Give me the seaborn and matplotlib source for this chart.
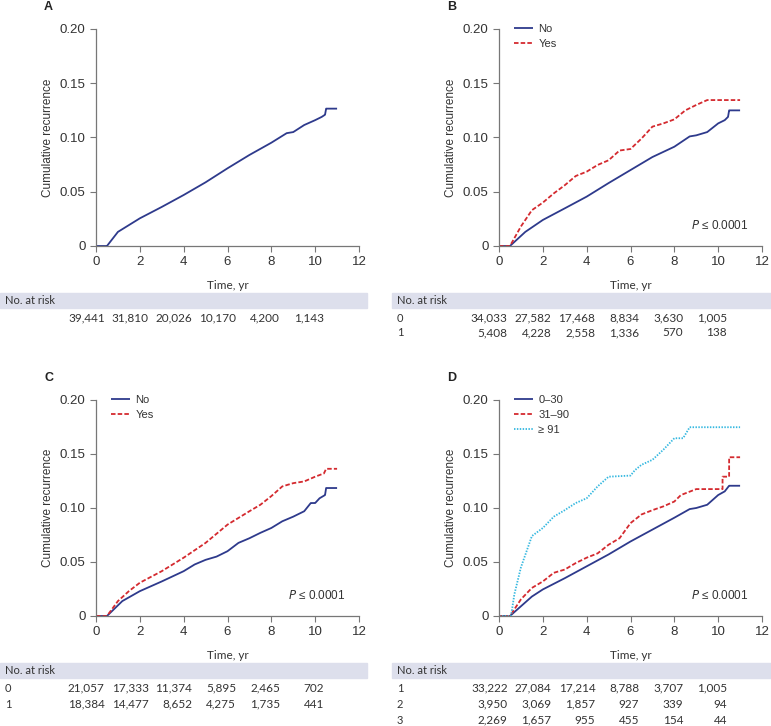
import pandas as pd
import matplotlib.pyplot as plt
import matplotlib.transforms as mtransforms
from matplotlib.patches import Rectangle
import seaborn as sns

# --- curve values ---
# A: all patients
a_time = [0, 0.5, 1, 2, 3, 4, 5, 6, 7, 8, 8.7, 9, 9.5, 10, 10.3, 10.45, 10.5, 11]
a_cum = [0, 0, 0.013, 0.0255, 0.036, 0.047, 0.0587, 0.0716, 0.0839, 0.0952,
         0.104, 0.105, 0.1115, 0.116, 0.119, 0.121, 0.1266, 0.1266]

# B
b_no_time = [0, 0.5, 1.2, 2, 3, 4, 5, 6, 7, 8, 8.7, 9, 9.5, 10, 10.3, 10.45, 10.5, 11]
b_no_cum = [0, 0, 0.013, 0.024, 0.0347, 0.0455, 0.058, 0.070, 0.082, 0.0915,
            0.101, 0.102, 0.105, 0.113, 0.116, 0.119, 0.125, 0.125]
b_yes_time = [0, 0.5, 1, 1.5, 2, 2.5, 3, 3.5, 4, 4.5, 5, 5.5, 6, 6.5, 7, 7.5, 8,
              8.5, 9, 9.5, 11]
b_yes_cum = [0, 0, 0.018, 0.033, 0.040, 0.0485, 0.056, 0.0645, 0.0685, 0.0747,
             0.079, 0.088, 0.0894, 0.099, 0.110, 0.113, 0.1167, 0.125, 0.130,
             0.1345, 0.1345]

# C
c_no_time = [0, 0.5, 1.2, 2, 3, 4, 4.5, 5, 5.5, 6, 6.5, 7, 7.5, 8, 8.5, 9, 9.5,
             9.8, 10, 10.2, 10.45, 10.5, 11]
c_no_cum = [0, 0, 0.0138, 0.023, 0.032, 0.0415, 0.0477, 0.052, 0.055, 0.060,
            0.0677, 0.072, 0.077, 0.0815, 0.0877, 0.092, 0.097, 0.1046, 0.1046,
            0.109, 0.112, 0.1185, 0.1185]
c_yes_time = [0, 0.5, 1, 1.5, 2, 3, 4, 5, 6, 7, 7.5, 8, 8.5, 9, 9.5, 10, 10.4,
              10.5, 11]
c_yes_cum = [0, 0, 0.0138, 0.023, 0.0308, 0.0415, 0.054, 0.0677, 0.0846, 0.097,
             0.103, 0.111, 0.120, 0.123, 0.1246, 0.129, 0.132, 0.1363, 0.1363]

# D
d_1_time = [0, 0.5, 1, 1.5, 2, 3, 4, 5, 6, 7, 8, 8.7, 9, 9.5, 10, 10.3, 10.5, 11]
d_1_cum = [0, 0, 0.009, 0.018, 0.0246, 0.035, 0.046, 0.057, 0.069, 0.080, 0.091,
           0.099, 0.100, 0.103, 0.112, 0.1154, 0.1206, 0.1206]
d_2_time = [0, 0.5, 1, 1.5, 2, 2.5, 3, 3.5, 4, 4.5, 5, 5.5, 6, 6.5, 7, 7.5, 8,
            8.3, 9, 10.2, 10.2, 10.5, 10.5, 11]
d_2_cum = [0, 0, 0.0154, 0.026, 0.032, 0.040, 0.043, 0.049, 0.054, 0.058, 0.066,
           0.072, 0.086, 0.094, 0.098, 0.1015, 0.106, 0.112, 0.1175, 0.1175,
           0.129, 0.129, 0.147, 0.147]
d_3_time = [0, 0.55, 0.7, 1, 1.5, 2, 2.5, 3, 3.5, 4, 4.5, 5, 6, 6.2, 6.5, 7,
            7.5, 8, 8.4, 8.7, 11]
d_3_cum = [0, 0, 0.02, 0.045, 0.074, 0.0815, 0.092, 0.098, 0.1046, 0.109, 0.120,
           0.129, 0.130, 0.135, 0.140, 0.1446, 0.154, 0.1646, 0.1646, 0.1748,
           0.1748]

# --- numbers at risk ---
risk_times = [0, 2, 4, 6, 8, 10]
risk_a = [39441, 31810, 20026, 10170, 4200, 1143]
risk_b0 = [34033, 27582, 17468, 8834, 3630, 1005]
risk_b1 = [5408, 4228, 2558, 1336, 570, 138]
risk_c0 = [21057, 17333, 11374, 5895, 2465, 702]
risk_c1 = [18384, 14477, 8652, 4275, 1735, 441]
risk_d1 = [33222, 27084, 17214, 8788, 3707, 1005]
risk_d2 = [3950, 3069, 1857, 927, 339, 94]
risk_d3 = [2269, 1657, 955, 455, 154, 44]

NAVY = "#2e3a8c"
RED = "#d42a2f"
CYAN = "#35b8e0"
BAND = "#dddfec"
TXT = "#333333"
TABLE_FONT = ["Lato", "DejaVu Sans"]

W, H = 771, 726
sns.set_theme(style="ticks")
plt.rcParams["font.family"] = ["Liberation Sans", "DejaVu Sans"]
fig = plt.figure(figsize=(W / 100, H / 100), dpi=100)


def px_axes(left, top, right, bottom):
    return fig.add_axes([left / W, 1 - bottom / H, (right - left) / W, (bottom - top) / H])


def make_df(series):
    rows = []
    for name, t, v in series:
        for ti, vi in zip(t, v):
            rows.append({"time": ti, "cum": vi, "group": name})
    return pd.DataFrame(rows)


def draw_panel(ax, series, palette, dashes, letter, show_legend, pval):
    df = make_df(series)
    sns.lineplot(data=df, x="time", y="cum", hue="group", style="group",
                 palette=palette, dashes=dashes, estimator=None, sort=False,
                 linewidth=1.3, ax=ax, legend=show_legend)
    ax.set_xlim(0, 12)
    ax.set_ylim(0, 0.2)
    ax.set_xticks(range(0, 13, 2))
    ax.set_yticks([0, 0.05, 0.10, 0.15, 0.20])
    ax.set_yticklabels(["0", "0.05", "0.10", "0.15", "0.20"])
    sns.despine(ax=ax)
    for s in ["left", "bottom"]:
        ax.spines[s].set_color("#777777")
        ax.spines[s].set_linewidth(0.9)
    ax.tick_params(colors="#777777", labelcolor=TXT, labelsize=9.5, length=4, width=0.8)
    ax.set_xlabel("Time, yr", fontsize=8.5, color=TXT, family=TABLE_FONT, labelpad=8)
    ax.set_ylabel("Cumulative recurrence", fontsize=8.5, color=TXT, labelpad=4)
    ax.text(-0.18, 1.10, letter, transform=ax.transAxes, fontsize=9, fontweight="bold",
            color="#222222", ha="center", va="center")
    if show_legend:
        leg = ax.legend(loc="upper left", bbox_to_anchor=(0.04, 1.045), frameon=False,
                        handlelength=1.7, handletextpad=0.5, labelspacing=0.45,
                        fontsize=8, borderaxespad=0)
        for t in leg.get_texts():
            t.set_color(TXT)
    if pval:
        ax.text(0.95, 0.095, r"$P$ ≤ 0.0001", transform=ax.transAxes, fontsize=8.5,
                color=TXT, ha="right", va="center")


def draw_table(ax, band_left, band_right, band_top, row_ys, labels, rows):
    fig.patches.append(Rectangle((band_left / W, 1 - (band_top + 15) / H),
                                 (band_right - band_left) / W, 15 / H,
                                 transform=fig.transFigure, color=BAND, zorder=0))
    fig.text((band_left + 5) / W, 1 - (band_top + 7.5) / H, "No. at risk", fontsize=8,
             color=TXT, va="center", family=TABLE_FONT)
    tr = mtransforms.blended_transform_factory(ax.transData, fig.transFigure)
    for y, lab, vals in zip(row_ys, labels, rows):
        if lab:
            fig.text((band_left + 5) / W, 1 - y / H, lab, fontsize=8, color=TXT,
                     va="center", family=TABLE_FONT)
        for t, n in zip(risk_times, vals):
            ax.text(t + 0.4, 1 - y / H, f"{n:,}", transform=tr, fontsize=8.5, color=TXT,
                    ha="right", va="center", family=TABLE_FONT)


ax_a = px_axes(96, 29, 359, 246)
ax_b = px_axes(499, 29, 762, 246)
ax_c = px_axes(96, 400, 359, 616)
ax_d = px_axes(499, 400, 762, 616)

draw_panel(ax_a, [("All", a_time, a_cum)], {"All": NAVY}, {"All": (1, 0)}, "A", False, False)
draw_panel(ax_b, [("No", b_no_time, b_no_cum), ("Yes", b_yes_time, b_yes_cum)],
           {"No": NAVY, "Yes": RED}, {"No": (1, 0), "Yes": (2.5, 1.2)}, "B", True, True)
draw_panel(ax_c, [("No", c_no_time, c_no_cum), ("Yes", c_yes_time, c_yes_cum)],
           {"No": NAVY, "Yes": RED}, {"No": (1, 0), "Yes": (2.5, 1.2)}, "C", True, True)
draw_panel(ax_d, [("0–30", d_1_time, d_1_cum), ("31–90", d_2_time, d_2_cum),
                  ("≥ 91", d_3_time, d_3_cum)],
           {"0–30": NAVY, "31–90": RED, "≥ 91": CYAN},
           {"0–30": (1, 0), "31–90": (2.5, 1.2), "≥ 91": (0.8, 0.8)}, "D", True, True)

draw_table(ax_a, 0, 367, 293, [318], [""], [risk_a])
draw_table(ax_b, 392, 771, 293, [318, 333], ["0", "1"], [risk_b0, risk_b1])
draw_table(ax_c, 0, 367, 663, [688, 704], ["0", "1"], [risk_c0, risk_c1])
draw_table(ax_d, 392, 771, 663, [688, 704, 720], ["1", "2", "3"], [risk_d1, risk_d2, risk_d3])

fig.savefig("out.png", dpi=100, facecolor="white")
